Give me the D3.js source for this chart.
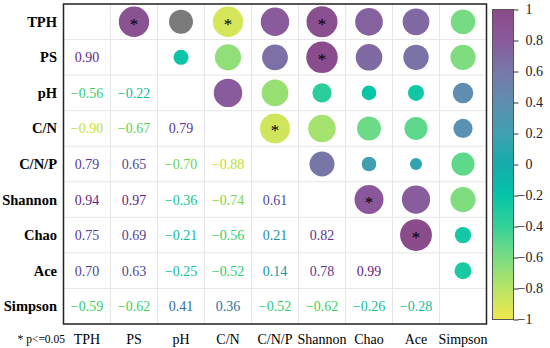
<!DOCTYPE html>
<html lang="en">
  <head>
    <meta charset="utf-8">
    <title>Correlation matrix</title>
    <style>
      body { margin: 0; background: #fff; }
    </style>
  </head>
  <body>

<script src="https://cdn.jsdelivr.net/npm/d3@7"></script>

<script>
// variable names (rows and columns)
var labels = ["TPH", "PS", "pH", "C/N", "C/N/P", "Shannon", "Chao", "Ace", "Simpson"];

// lower triangle of the correlation matrix, row by row
var lower = [
  [],
  [0.90],
  [-0.56, -0.22],
  [-0.90, -0.67, 0.79],
  [0.79, 0.65, -0.70, -0.88],
  [0.94, 0.97, -0.36, -0.74, 0.61],
  [0.75, 0.69, -0.21, -0.56, 0.21, 0.82],
  [0.70, 0.63, -0.25, -0.52, 0.14, 0.78, 0.99],
  [-0.59, -0.62, 0.41, 0.36, -0.52, -0.62, -0.26, -0.28]
];

// pairs with p<=0.05 (row, col) and the pair drawn grey
var sigPairs = [["TPH", "PS"], ["TPH", "C/N"], ["TPH", "Shannon"], ["PS", "Shannon"],
                ["C/N", "C/N/P"], ["Shannon", "Chao"], ["Chao", "Ace"]];
var greyPairs = [["TPH", "pH"]];

var barTicks = [1, 0.8, 0.6, 0.4, 0.2, 0, -0.2, -0.4, -0.6, -0.8, -1];

var W = 550, H = 348;
var margin = {left: 63.5, top: 4, right: 486.5, bottom: 324};
var FONT = '"Liberation Serif", "Times New Roman", "DejaVu Serif", serif';

// colour ramps, from r = 1 down to r = -1
var rampDomain = [1, 0.8, 0.6, 0.4, 0.2, 0, -0.2, -0.4, -0.6, -0.8, -1];
var circleRamp = ["#8a4a8a", "#8a5a9c", "#7777aa", "#5f8eb2", "#3fa0b0", "#15acac",
                  "#05c4a8", "#35d198", "#7adc82", "#b8e466", "#f2e84e"];
var textRamp = ["#6a1f80", "#5e3590", "#4e4c92", "#356c9c", "#1a8fa0", "#10a8a8",
                "#10b8a0", "#18c890", "#38cf60", "#a0d830", "#e8e830"];

var svg = d3.select('body').append('svg')
  .attr('width', W)
  .attr('height', H)
  .attr('font-family', FONT);

var x = d3.scaleBand().domain(labels).range([margin.left, margin.right]);
var y = d3.scaleBand().domain(labels).range([margin.top, margin.bottom]);

var color = d3.scaleLinear().domain(rampDomain).range(circleRamp).interpolate(d3.interpolateRgb);
var tcolor = d3.scaleLinear().domain(rampDomain).range(textRamp).interpolate(d3.interpolateRgb);
var rScale = d3.scaleSqrt().domain([0, 1]).range([0, 16]);

// build cells
var cells = [];
lower.forEach((row, i) => {
  row.forEach((v, j) => {
    cells.push({row: labels[i], col: labels[j], v: v, kind: "text"});
    cells.push({row: labels[j], col: labels[i], v: v, kind: "circle"});
  });
});
var isIn = (list, a, b) => list.some((p) => p[0] === a && p[1] === b);

// grid lines
var g = svg.append('g');
g.selectAll('.vline')
  .data(labels.slice(1))
  .enter().append('line')
    .attr('x1', (d) => x(d)).attr('x2', (d) => x(d))
    .attr('y1', margin.top).attr('y2', margin.bottom)
    .attr('stroke', '#e6e6e6').attr('stroke-width', 1);
g.selectAll('.hline')
  .data(labels.slice(1))
  .enter().append('line')
    .attr('y1', (d) => y(d)).attr('y2', (d) => y(d))
    .attr('x1', margin.left).attr('x2', margin.right)
    .attr('stroke', '#e6e6e6').attr('stroke-width', 1);

// circles in the upper triangle
var circ = cells.filter((c) => c.kind === "circle");
g.selectAll('.dot')
  .data(circ)
  .enter().append('circle')
    .attr('cx', (d) => x(d.col) + x.bandwidth() / 2)
    .attr('cy', (d) => y(d.row) + y.bandwidth() / 2)
    .attr('r', (d) => rScale(Math.abs(d.v)))
    .attr('fill', (d) => isIn(greyPairs, d.row, d.col) ? '#7a7a7a' : color(d.v));

// significance stars
g.selectAll('.star')
  .data(circ.filter((d) => isIn(sigPairs, d.row, d.col)))
  .enter().append('text')
    .attr('x', (d) => x(d.col) + x.bandwidth() / 2)
    .attr('y', (d) => y(d.row) + y.bandwidth() / 2 + 8)
    .attr('text-anchor', 'middle')
    .attr('font-size', 17)
    .attr('fill', '#000')
    .text('*');

// numbers in the lower triangle
var fmt = (v) => (v < 0 ? "\u2212" : "") + Math.abs(v).toFixed(2);
g.selectAll('.val')
  .data(cells.filter((c) => c.kind === "text"))
  .enter().append('text')
    .attr('x', (d) => x(d.col) + x.bandwidth() / 2)
    .attr('y', (d) => y(d.row) + y.bandwidth() / 2 + 5)
    .attr('text-anchor', 'middle')
    .attr('font-size', 14)
    .attr('fill', (d) => tcolor(d.v))
    .text((d) => fmt(d.v));

// frame
svg.append('rect')
  .attr('x', margin.left).attr('y', margin.top)
  .attr('width', margin.right - margin.left)
  .attr('height', margin.bottom - margin.top)
  .attr('fill', 'none')
  .attr('stroke', '#222')
  .attr('stroke-width', 1.5);

// row labels
svg.selectAll('.rowlab')
  .data(labels)
  .enter().append('text')
    .attr('x', 57)
    .attr('y', (d) => y(d) + y.bandwidth() / 2 + 5)
    .attr('text-anchor', 'end')
    .attr('font-size', 14.5)
    .attr('font-weight', 'bold')
    .text((d) => d);

// column labels
svg.selectAll('.collab')
  .data(labels)
  .enter().append('text')
    .attr('x', (d) => x(d) + x.bandwidth() / 2)
    .attr('y', 344)
    .attr('text-anchor', 'middle')
    .attr('font-size', 14)
    .text((d) => d);

svg.append('text')
  .attr('x', 65)
  .attr('y', 343)
  .attr('text-anchor', 'end')
  .attr('font-size', 11.5)
  .text('* p<=0.05');

// colour bar
var cb = {x: 492.5, w: 21, top: 9.5, bottom: 319.5};
var cy = d3.scaleLinear().domain([1, -1]).range([cb.top, cb.bottom]);

var grad = svg.append('defs').append('linearGradient')
  .attr('id', 'cbar')
  .attr('x1', 0).attr('y1', 0).attr('x2', 0).attr('y2', 1);
grad.selectAll('stop')
  .data(d3.range(0, 1.0001, 0.05))
  .enter().append('stop')
    .attr('offset', (d) => d)
    .attr('stop-color', (d) => color(1 - 2 * d));

svg.append('rect')
  .attr('x', cb.x).attr('y', cb.top)
  .attr('width', cb.w).attr('height', cb.bottom - cb.top)
  .attr('fill', 'url(#cbar)')
  .attr('stroke', '#555')
  .attr('stroke-width', 1);

var axis = d3.axisRight(cy)
  .tickValues(barTicks)
  .tickSize(5)
  .tickPadding(3)
  .tickFormat((d) => d < 0 ? "\u2212" + Math.abs(d) : "" + d);

var ax = svg.append('g')
  .attr('transform', 'translate(' + (cb.x + cb.w) + ',0)')
  .call(axis);
ax.select('.domain').remove();
ax.selectAll('line').attr('stroke', '#333');
ax.attr('font-family', FONT).attr('font-size', 14);
ax.selectAll('text')
  .attr('fill', '#222')
  .attr('x', (d) => d < 0 ? 4 : 12);
</script>

  </body>
</html>
